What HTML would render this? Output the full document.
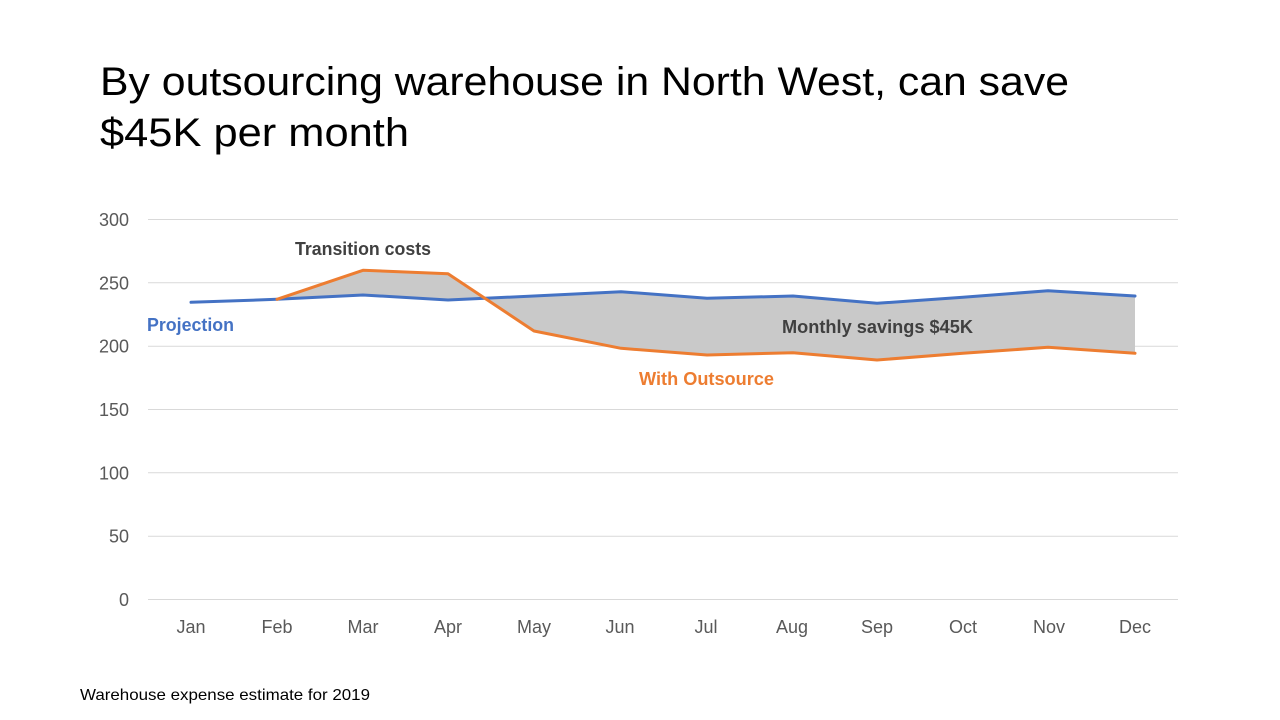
<!DOCTYPE html>
<html>
<head>
<meta charset="utf-8">
<style>
  html, body { margin: 0; padding: 0; background: #ffffff; }
  body { width: 1280px; height: 720px; overflow: hidden; }
  svg { display: block; }
  text { font-family: "Liberation Sans", "DejaVu Sans", sans-serif; }
</style>
</head>
<body>
<svg width="1280" height="720" viewBox="0 0 1280 720" xmlns="http://www.w3.org/2000/svg">
  <rect x="0" y="0" width="1280" height="720" fill="#ffffff"/>

  <!-- Title -->
  <text x="100" y="95" font-size="40" fill="#000000" textLength="969" lengthAdjust="spacingAndGlyphs">By outsourcing warehouse in North West, can save</text>
  <text x="100" y="146" font-size="40" fill="#000000" textLength="309" lengthAdjust="spacingAndGlyphs">$45K per month</text>

  <!-- Gridlines -->
  <g stroke="#D9D9D9" stroke-width="1">
    <line x1="148" y1="219.5" x2="1178" y2="219.5"/>
    <line x1="148" y1="282.8" x2="1178" y2="282.8"/>
    <line x1="148" y1="346.2" x2="1178" y2="346.2"/>
    <line x1="148" y1="409.5" x2="1178" y2="409.5"/>
    <line x1="148" y1="472.8" x2="1178" y2="472.8"/>
    <line x1="148" y1="536.2" x2="1178" y2="536.2"/>
    <line x1="148" y1="599.5" x2="1178" y2="599.5"/>
  </g>

  <!-- Y axis labels -->
  <g font-size="18" fill="#595959" text-anchor="end">
    <text x="129" y="226">300</text>
    <text x="129" y="289.3">250</text>
    <text x="129" y="352.7">200</text>
    <text x="129" y="416">150</text>
    <text x="129" y="479.3">100</text>
    <text x="129" y="542.7">50</text>
    <text x="129" y="606">0</text>
  </g>

  <!-- X axis labels -->
  <g font-size="18" fill="#595959" text-anchor="middle">
    <text x="191" y="633">Jan</text>
    <text x="277" y="633">Feb</text>
    <text x="363" y="633">Mar</text>
    <text x="448" y="633">Apr</text>
    <text x="534" y="633">May</text>
    <text x="620" y="633">Jun</text>
    <text x="706" y="633">Jul</text>
    <text x="792" y="633">Aug</text>
    <text x="877" y="633">Sep</text>
    <text x="963" y="633">Oct</text>
    <text x="1049" y="633">Nov</text>
    <text x="1135" y="633">Dec</text>
  </g>

  <!-- Savings fill -->
  <polygon fill="#C9C9C9" points="
    277,299.3 363,270.3 448,273.7 534,331 621,348.3 707,355 793,352.7 877,360 963,353.3 1048,347.3 1135,353.3
    1135,296 1048,290.7 963,297.3 877,303.3 793,296 707,298.3 621,291.7 534,296 448,300 363,295 277,299.3"/>

  <!-- Projection (blue) -->
  <polyline fill="none" stroke="#4472C4" stroke-width="3" stroke-linejoin="round" stroke-linecap="round"
    points="191,302.3 277,299.3 363,295 448,300 534,296 621,291.7 707,298.3 793,296 877,303.3 963,297.3 1048,290.7 1135,296"/>

  <!-- With Outsource (orange) -->
  <polyline fill="none" stroke="#ED7D31" stroke-width="3" stroke-linejoin="round" stroke-linecap="round"
    points="277,299.3 363,270.3 448,273.7 534,331 621,348.3 707,355 793,352.7 877,360 963,353.3 1048,347.3 1135,353.3"/>

  <!-- Annotations -->
  <text x="295" y="255" font-size="18" font-weight="bold" fill="#404040" textLength="136" lengthAdjust="spacingAndGlyphs">Transition  costs</text>
  <text x="147" y="331" font-size="18" font-weight="bold" fill="#4472C4" textLength="87" lengthAdjust="spacingAndGlyphs">Projection</text>
  <text x="782" y="333" font-size="18" font-weight="bold" fill="#404040" textLength="191" lengthAdjust="spacingAndGlyphs">Monthly savings $45K</text>
  <text x="639" y="385" font-size="18" font-weight="bold" fill="#ED7D31" textLength="135" lengthAdjust="spacingAndGlyphs">With Outsource</text>

  <!-- Footer -->
  <text x="80" y="700" font-size="16" fill="#000000" textLength="290" lengthAdjust="spacingAndGlyphs">Warehouse expense estimate for 2019</text>
</svg>
</body>
</html>
